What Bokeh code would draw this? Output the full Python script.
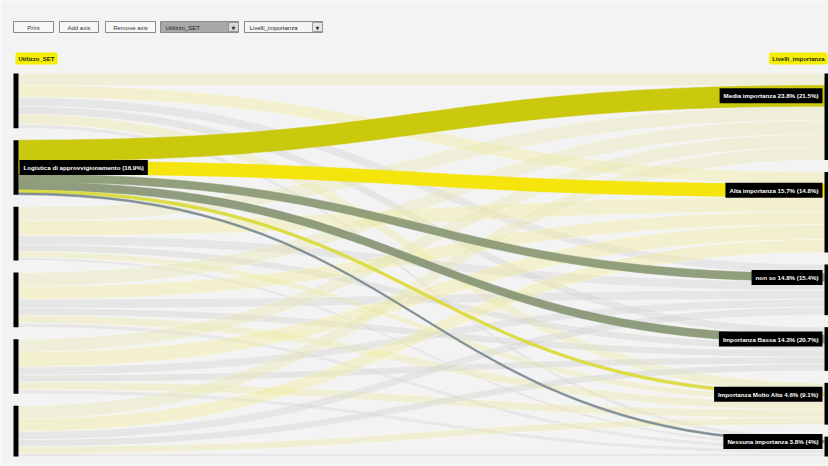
import numpy as np
from bokeh.plotting import figure
from bokeh.models import Range1d, Label
from bokeh.embed import file_html
from bokeh.resources import INLINE
from bokeh.core.properties import value

# ---------------- data ----------------
left_dim = "Utilizzo_SET"
right_dim = "Livelli_importanza"
left_cats = ["Logistica distributiva", "Logistica di approvvigionamento",
             "Logistica di produzione", "Logistica inversa",
             "Gestione magazzino", "Trasporti"]
left_pct = ["(17.0%)", "(16.9%)", "(16.7%)", "(17.0%)", "(17.0%)", "(15.7%)"]
right_cats = ["Media importanza", "Alta importanza", "non so",
              "Importanza Bassa", "Importanza Molto Alta", "Nessuna importanza"]
right_pct = ["23.8% (21.5%)", "15.7% (14.8%)", "14.8% (15.4%)",
             "14.3% (20.7%)", "4.6% (9.1%)", "3.8% (4%)"]
highlight_row = 1
counts = [
    [12, 12, 9, 8, 10, 4],
    [21, 13, 8, 8, 3, 2],
    [14, 15, 9, 7, 6, 3],
    [14, 13, 9, 7, 8, 4],
    [13, 15, 8, 7, 8, 4],
    [13, 13, 8, 7, 7, 3],
]
buttons = ["Print", "Add axis", "Remove axis"]
selects = [left_dim, right_dim]

# ---------------- styles ----------------
faint_colors = ["#e8e6b4", "#f0eb9c", "#d5d5d3", "#d2d3cf", "#ecea a6".replace(" ", ""), "#d6d6da"]
strong_colors = ["#c8c600", "#f4e400", "#8c9a76", "#899777", "#dada3c", "#7b8a92"]
BG = "#f3f3f3"

W, H = 828, 466
p = figure(width=W, height=H, output_backend="svg", toolbar_location=None,
           x_range=Range1d(0, W), y_range=Range1d(H, 0),
           min_border=0, background_fill_color=BG, border_fill_color=BG)
p.axis.visible = False
p.grid.visible = False
p.outline_line_color = None

# ---------------- layout of the parallel sets ----------------
M = np.array(counts, dtype=float)
nL, nR = M.shape
total = M.sum()
y_top, y_bot = 73.0, 456.0
gap = 12.0
k = (y_bot - y_top - gap * (nL - 1)) / total  # pixels per count
xL, xR = 18.0, 824.0

row_tot = M.sum(axis=1)
col_tot = M.sum(axis=0)
left_start = y_top + np.concatenate([[0], np.cumsum(row_tot[:-1] * k + gap)])
right_start = y_top + np.concatenate([[0], np.cumsum(col_tot[:-1] * k + gap)])

l_off = np.zeros_like(M)
r_off = np.zeros_like(M)
for i in range(nL):
    acc = 0.0
    for j in range(nR):
        l_off[i, j] = left_start[i] + acc
        acc += M[i, j] * k
for j in range(nR):
    acc = 0.0
    for i in range(nL):
        r_off[i, j] = right_start[j] + acc
        acc += M[i, j] * k

t = np.linspace(0, 1, 40)
xm = (xL + xR) / 2
bx = (1 - t) ** 3 * xL + 3 * (1 - t) ** 2 * t * xm + 3 * (1 - t) * t ** 2 * xm + t ** 3 * xR
sy = 3 * (1 - t) * t ** 2 + t ** 3


def ribbon(i, j):
    a0, a1 = l_off[i, j], l_off[i, j] + M[i, j] * k
    b0, b1 = r_off[i, j], r_off[i, j] + M[i, j] * k
    top = a0 + (b0 - a0) * sy
    bot = a1 + (b1 - a1) * sy
    return list(np.concatenate([bx, bx[::-1]])), list(np.concatenate([top, bot[::-1]]))


fx, fy, fc = [], [], []
for i in range(nL):
    if i == highlight_row:
        continue
    for j in range(nR):
        xs, ys = ribbon(i, j)
        fx.append(xs); fy.append(ys); fc.append(faint_colors[j])
p.patches(fx, fy, fill_color=fc, fill_alpha=0.42, line_color="white", line_alpha=0.45, line_width=0.7)

hx, hy, hc = [], [], []
for j in range(nR):
    xs, ys = ribbon(highlight_row, j)
    hx.append(xs); hy.append(ys); hc.append(strong_colors[j])
p.patches(hx, hy, fill_color=hc, fill_alpha=0.95, line_color=hc, line_width=0.5)

p.quad(left=xL - 5, right=xL, top=list(left_start), bottom=list(left_start + row_tot * k),
       fill_color="black", line_color=None)
p.quad(left=xR, right=xR + 4, top=list(right_start), bottom=list(right_start + col_tot * k),
       fill_color="black", line_color=None)

lab_font = "Liberation Sans"
hl_mid = left_start[highlight_row] + row_tot[highlight_row] * k / 2
p.add_layout(Label(x=xL + 1, y=hl_mid, text=f"{left_cats[highlight_row]} {left_pct[highlight_row]}",
                   text_font=lab_font, text_font_size="6.2px", text_font_style="bold",
                   text_color="white", text_baseline="middle", text_align="left",
                   background_fill_color="black", padding=4))
for j in range(nR):
    yc = r_off[highlight_row, j] + M[highlight_row, j] * k / 2
    p.add_layout(Label(x=xR - 2, y=yc, text=f"{right_cats[j]} {right_pct[j]}",
                       text_font=lab_font, text_font_size="6.2px", text_font_style="bold",
                       text_color="white", text_baseline="middle", text_align="right",
                       background_fill_color="black", padding=4))

p.add_layout(Label(x=15, y=58, text=left_dim, text_font=lab_font, text_font_size="6px",
                   text_font_style="bold", text_color="#222", text_baseline="middle",
                   background_fill_color="#f4ee00", padding=3, border_radius=2))
p.add_layout(Label(x=827, y=58, text=right_dim, text_font=lab_font, text_font_size="6px",
                   text_font_style="bold", text_color="#222", text_baseline="middle", text_align="right",
                   background_fill_color="#f4ee00", padding=3, border_radius=2))

b_left = [13, 59, 105]
b_right = [53, 98, 155]
p.quad(left=b_left, right=b_right, top=[21] * 3, bottom=[32] * 3,
       fill_color="#f7f7f7", line_color="#8a8a8a", line_width=1)
p.text(x=[(a + b) / 2 for a, b in zip(b_left, b_right)], y=[27] * 3, text=buttons,
       text_font=value(lab_font), text_font_size="6px", text_color="#333",
       text_align="center", text_baseline="middle")
s_left = [160, 244]
s_right = [238, 322]
p.quad(left=s_left, right=s_right, top=[21] * 2, bottom=[32] * 2,
       fill_color=["#a9a9a9", "#f5f5f5"], line_color="#8a8a8a", line_width=1)
p.quad(left=[r - 10 for r in s_right], right=s_right, top=[22] * 2, bottom=[31] * 2,
       fill_color=["#d8d8d8", "#e8e8e8"], line_color="#8a8a8a", line_width=0.8)
p.text(x=[l + 5 for l in s_left], y=[27] * 2, text=selects,
       text_font=value(lab_font), text_font_size="6px", text_color="#222",
       text_align="left", text_baseline="middle")
p.text(x=[r - 5 for r in s_right], y=[27] * 2, text=["▼", "▼"],
       text_font=value("DejaVu Sans"), text_font_size="5px", text_color="#333",
       text_align="center", text_baseline="middle")

open("out.html", "w").write(file_html(p, INLINE))
